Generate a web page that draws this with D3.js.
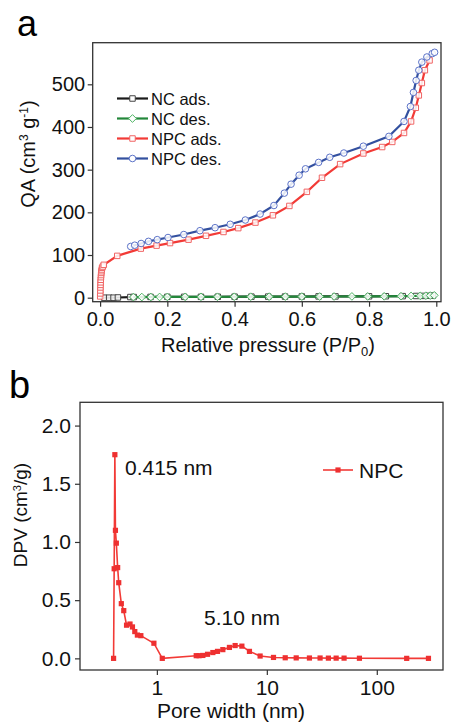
<!DOCTYPE html>
<html>
<head>
<meta charset="utf-8">
<script src="https://cdn.jsdelivr.net/npm/d3@7"></script>
<style>
  body { margin: 0; background: #fff; }
  svg { display: block; font-family: "Liberation Sans", Arial, sans-serif; }
</style>
</head>
<body>
<div id="chart"></div>
<script>
// ---- data, panel a (isotherms) ----
var NC_ADS_X = [0.012, 0.027, 0.04, 0.053, 0.09, 0.1, 0.15, 0.2, 0.25, 0.3, 0.35, 0.4, 0.45, 0.5, 0.55, 0.6, 0.65, 0.7, 0.8, 0.85, 0.9, 0.94, 0.96, 0.98, 0.99];
var NC_ADS_Y = [0, 0, 0, 0.5, 1.5, 1.5, 1.8, 2, 2, 2, 2.2, 2.3, 2.4, 2.5, 2.6, 2.8, 3, 3, 3.2, 3.4, 3.6, 4, 4.2, 4.5, 5];
var NC_DES_X = [0.099, 0.124, 0.151, 0.177, 0.2, 0.253, 0.3, 0.349, 0.399, 0.448, 0.503, 0.551, 0.6, 0.653, 0.696, 0.749, 0.796, 0.845, 0.895, 0.925, 0.952, 0.969, 0.982, 0.994];
var NC_DES_Y = [1.5, 1.5, 1.6, 1.7, 1.8, 2, 2, 2.1, 2.2, 2.3, 2.4, 2.5, 2.6, 2.7, 2.8, 3, 3, 3.2, 3.5, 4, 4.3, 4.6, 4.9, 5.5];
var NPC_ADS_X = [0.0003, 0.0005, 0.0008, 0.001, 0.0013, 0.0016, 0.002, 0.0025, 0.003, 0.0035, 0.004, 0.005, 0.006, 0.008, 0.011,
                 0.051, 0.121, 0.168, 0.208, 0.263, 0.315, 0.367, 0.411, 0.462, 0.514, 0.563, 0.615, 0.66, 0.714, 0.783, 0.839, 0.869, 0.904, 0.925, 0.939, 0.948, 0.957, 0.966, 0.98];
var NPC_ADS_Y = [3, 10, 17, 24, 30, 36, 42, 48, 53, 58, 62, 66, 70, 73, 77,
                 98, 115, 122, 128, 136, 145, 154, 163, 176, 193, 215, 248, 281, 313, 338, 353, 365, 386, 413, 445, 474, 503, 533, 556];
var NPC_DES_X = [0.091, 0.103, 0.122, 0.144, 0.17, 0.202, 0.249, 0.297, 0.342, 0.387, 0.432, 0.476, 0.517, 0.548, 0.568, 0.592, 0.611, 0.65, 0.683, 0.725, 0.783, 0.859, 0.904, 0.923, 0.932, 0.94, 0.948, 0.957, 0.972, 0.988, 0.995];
var NPC_DES_Y = [120, 123, 127, 132, 136, 141, 148, 157, 164, 172, 182, 196, 216, 245, 266, 287, 302, 317, 329, 339, 355, 378, 413, 448, 481, 509, 533, 552, 564, 572, 575];

// ---- data, panel b (pore size distribution) ----
var PORE_X = [0.404, 0.409, 0.415, 0.42, 0.428, 0.44, 0.45, 0.475, 0.5, 0.53, 0.57, 0.6, 0.63, 0.665, 0.715, 0.94, 1.12,
              2.28, 2.42, 2.62, 2.89, 3.23, 3.56, 3.98, 4.57, 5.15, 5.93, 6.95, 8.69, 11.5, 14.7, 18.5, 24.4, 30.5, 36.3, 42.7, 50.4, 69.5, 187, 295];
var PORE_Y = [0, 0.77, 1.75, 1.1, 0.99, 0.78, 0.65, 0.47, 0.41, 0.285, 0.295, 0.27, 0.23, 0.2, 0.195, 0.13, 0,
              0.023, 0.023, 0.025, 0.035, 0.05, 0.06, 0.075, 0.094, 0.11, 0.105, 0.06, 0.02, 0.008, 0.005, 0.004, 0.003, 0.003, 0.002, 0.002, 0.002, 0.001, 0, 0];

var A_TICKS_X = [0, 0.2, 0.4, 0.6, 0.8, 1.0];
var A_TICKS_Y = [0, 100, 200, 300, 400, 500];
var B_TICKS_X = [1, 10, 100];
var B_TICKS_Y = [0, 0.5, 1.0, 1.5, 2.0];

var FONT = "'Liberation Sans', Arial, sans-serif";

var svg = d3.select("#chart").append("svg")
    .attr("width", 452)
    .attr("height", 723);

function zip(xs, ys) {
    return xs.map(function(x, i) { return [x, ys[i]]; });
}

// draws a frame box plus outward ticks on left and bottom
function drawFrame(x, y, majorX, minorX, majorY, minorY, fmtX, fmtY, fontSize, padX, padY) {
    var x0 = x.range()[0], x1 = x.range()[1];
    var y0 = y.range()[0], y1 = y.range()[1];

    var gx = svg.append("g").attr("transform", "translate(0," + y0 + ")");
    gx.call(d3.axisBottom(x).tickValues(minorX).tickSize(3).tickFormat(""));
    gx.call(d3.axisBottom(x).tickValues(majorX).tickSize(5).tickPadding(padX).tickFormat(fmtX));
    gx.selectAll(".domain").remove();

    var gy = svg.append("g").attr("transform", "translate(" + x0 + ",0)");
    gy.call(d3.axisLeft(y).tickValues(minorY).tickSize(3).tickFormat(""));
    gy.call(d3.axisLeft(y).tickValues(majorY).tickSize(5).tickPadding(padY).tickFormat(fmtY));
    gy.selectAll(".domain").remove();

    svg.selectAll("g.tick line").attr("stroke", "#333").attr("stroke-width", 1.2);
    svg.selectAll("g.tick text")
        .attr("font-family", FONT)
        .attr("fill", "#111");
    gx.selectAll("text").attr("font-size", fontSize);
    gy.selectAll("text").attr("font-size", fontSize);

    svg.append("rect")
        .attr("x", x0).attr("y", y1)
        .attr("width", x1 - x0).attr("height", y0 - y1)
        .attr("fill", "none")
        .attr("stroke", "#333")
        .attr("stroke-width", 1.3);
}

// ================= panel a =================
var xA = d3.scaleLinear().domain([-0.022, 1.014]).range([92.7, 441]);
var yA = d3.scaleLinear().domain([-9.4, 597.5]).range([301.7, 42.7]);

drawFrame(xA, yA, A_TICKS_X, d3.range(0, 1.01, 0.1), A_TICKS_Y, d3.range(0, 551, 50),
          d3.format(".1f"), d3.format("d"), "20px", 5, 2.5);

var seriesA = [
    { name: "NC ads.",  pts: zip(NC_ADS_X, NC_ADS_Y),   line: "#1a1a1a", mark: "#444",    shape: "square" },
    { name: "NC des.",  pts: zip(NC_DES_X, NC_DES_Y),   line: "#23873a", mark: "#4db463", shape: "diamond" },
    { name: "NPC ads.", pts: zip(NPC_ADS_X, NPC_ADS_Y), line: "#f23a36", mark: "#f06464", shape: "square" },
    { name: "NPC des.", pts: zip(NPC_DES_X, NPC_DES_Y), line: "#33509f", mark: "#5b72c8", shape: "circle" }
];

function symbolFor(shape) {
    if (shape == "square") return d3.symbol().type(d3.symbolSquare).size(30);
    if (shape == "diamond") return d3.symbol().type(d3.symbolDiamond2).size(38);
    return d3.symbol().type(d3.symbolCircle).size(34);
}

var lineA = d3.line().x(function(d) { return xA(d[0]); }).y(function(d) { return yA(d[1]); });

seriesA.forEach(function(s) {
    svg.append("path")
        .attr("d", lineA(s.pts))
        .attr("fill", "none")
        .attr("stroke", s.line)
        .attr("stroke-width", 2.2);
    svg.append("g").selectAll("path")
        .data(s.pts)
        .enter().append("path")
        .attr("d", symbolFor(s.shape))
        .attr("transform", function(d) { return "translate(" + xA(d[0]) + "," + yA(d[1]) + ")"; })
        .attr("fill", "white")
        .attr("fill-opacity", 0.85)
        .attr("stroke", s.mark)
        .attr("stroke-width", 1);
});

// legend a
seriesA.forEach(function(s, i) {
    var ly = 98.5 + i * 20;
    svg.append("line")
        .attr("x1", 117).attr("x2", 148)
        .attr("y1", ly).attr("y2", ly)
        .attr("stroke", s.line).attr("stroke-width", 2.2);
    svg.append("path")
        .attr("d", symbolFor(s.shape))
        .attr("transform", "translate(132.5," + ly + ")")
        .attr("fill", "white")
        .attr("stroke", s.mark)
        .attr("stroke-width", 1);
    svg.append("text")
        .attr("x", 151).attr("y", ly + 6)
        .attr("font-family", FONT).attr("font-size", "16.5px")
        .attr("fill", "#111")
        .text(s.name);
});

// axis titles a
var titleXA = svg.append("text")
    .attr("x", 268).attr("y", 352)
    .attr("text-anchor", "middle")
    .attr("font-family", FONT).attr("font-size", "20px").attr("fill", "#111");
titleXA.append("tspan").text("Relative pressure (P/P");
titleXA.append("tspan").attr("font-size", "13px").attr("baseline-shift", "-30%").text("0");
titleXA.append("tspan").text(")");

var titleYA = svg.append("text")
    .attr("transform", "translate(35,154) rotate(-90)")
    .attr("text-anchor", "middle")
    .attr("font-family", FONT).attr("font-size", "20px").attr("fill", "#111");
titleYA.append("tspan").text("QA (cm");
titleYA.append("tspan").attr("font-size", "12px").attr("baseline-shift", "55%").text("3");
titleYA.append("tspan").text(" g");
titleYA.append("tspan").attr("font-size", "12px").attr("baseline-shift", "55%").text("-1");
titleYA.append("tspan").text(")");

svg.append("text")
    .attr("x", 17).attr("y", 36)
    .attr("font-family", FONT).attr("font-size", "36px").attr("fill", "#000")
    .text("a");

// ================= panel b =================
var xB = d3.scaleLog().domain([0.2, 400]).range([80, 443]);
var yB = d3.scaleLinear().domain([-0.1, 2.2]).range([670, 402.3]);

var minorB = [];
[0.1, 1, 10, 100].forEach(function(dec) {
    for (var k = 2; k <= 9; k++) {
        var v = dec * k;
        if (v >= 0.2 && v <= 400 && B_TICKS_X.indexOf(v) < 0) minorB.push(v);
    }
});

drawFrame(xB, yB, B_TICKS_X, minorB, B_TICKS_Y, d3.range(0, 2.01, 0.25),
          d3.format("d"), d3.format(".1f"), "21px", 5, 4);

var lineB = d3.line().x(function(d) { return xB(d[0]); }).y(function(d) { return yB(d[1]); });
var poreData = zip(PORE_X, PORE_Y);

svg.append("path")
    .attr("d", lineB(poreData))
    .attr("fill", "none")
    .attr("stroke", "#f23a36")
    .attr("stroke-width", 1.6);

svg.append("g").selectAll("rect")
    .data(poreData)
    .enter().append("rect")
    .attr("x", function(d) { return xB(d[0]) - 2.6; })
    .attr("y", function(d) { return yB(d[1]) - 2.6; })
    .attr("width", 5.2).attr("height", 5.2)
    .attr("fill", "#ee3030");

// legend b
svg.append("line")
    .attr("x1", 323).attr("x2", 353)
    .attr("y1", 470).attr("y2", 470)
    .attr("stroke", "#f23a36").attr("stroke-width", 1.6);
svg.append("rect")
    .attr("x", 335.4).attr("y", 467.4)
    .attr("width", 5.2).attr("height", 5.2)
    .attr("fill", "#ee3030");
svg.append("text")
    .attr("x", 359).attr("y", 477.5)
    .attr("font-family", FONT).attr("font-size", "21px").attr("fill", "#111")
    .text("NPC");

// annotations
svg.append("text")
    .attr("x", 125).attr("y", 475)
    .attr("font-family", FONT).attr("font-size", "21px").attr("fill", "#111")
    .text("0.415 nm");
svg.append("text")
    .attr("x", 204).attr("y", 625)
    .attr("font-family", FONT).attr("font-size", "21px").attr("fill", "#111")
    .text("5.10 nm");

// axis titles b
svg.append("text")
    .attr("x", 231).attr("y", 718)
    .attr("text-anchor", "middle")
    .attr("font-family", FONT).attr("font-size", "21px").attr("fill", "#111")
    .text("Pore width (nm)");

var titleYB = svg.append("text")
    .attr("transform", "translate(27,515) rotate(-90)")
    .attr("text-anchor", "middle")
    .attr("font-family", FONT).attr("font-size", "19px").attr("fill", "#111");
titleYB.append("tspan").text("DPV (cm");
titleYB.append("tspan").attr("font-size", "11px").attr("baseline-shift", "55%").text("3");
titleYB.append("tspan").text("/g)");

svg.append("text")
    .attr("x", 9).attr("y", 398)
    .attr("font-family", FONT).attr("font-size", "38px").attr("fill", "#000")
    .text("b");
</script>
</body>
</html>
